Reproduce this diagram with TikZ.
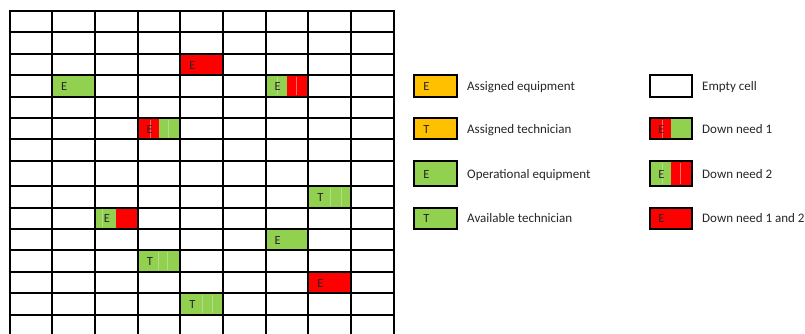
\documentclass[tikz,border=0pt]{standalone}
\usepackage{fontspec}
\setmainfont{Carlito}
\definecolor{xred}{RGB}{255,0,0}
\definecolor{xgreen}{RGB}{146,208,80}
\definecolor{xorange}{RGB}{255,192,0}
\definecolor{fgreen}{RGB}{178,222,140}
\definecolor{fred}{RGB}{255,110,110}
\begin{document}
\begin{tikzpicture}[x=1pt,y=-1pt,
  gridline/.style={line width=2pt,black},
  legbox/.style={line width=2pt,black},
  faintg/.style={line width=0.5pt,fgreen},
  faintr/.style={line width=0.5pt,fred},
  lbl/.style={inner sep=0pt,anchor=base,font=\fontsize{12.5}{12.5}\selectfont,text=black!85},
  legtxt/.style={inner sep=0pt,anchor=base west,font=\fontsize{13}{13}\selectfont,text=black!85}]
\clip (0,0) rectangle (805,333);
\fill[white] (0,0) rectangle (805,333);
% ---- filled cells ----
% r2 c4 red
\fill[xred] (180.3,53.8) rectangle (223,75.2);
\node[lbl] (c1) at (192.3,69) {E};
% r3 c1 green
\fill[xgreen] (52.2,75.2) rectangle (94.9,96.6);
\node[lbl] (c2) at (64.2,90.4) {E};
% r3 c6 green|red
\fill[xgreen] (265.7,75.2) rectangle (287.05,96.6);
\fill[xred] (287.05,75.2) rectangle (308.4,96.6);
\draw[faintg] (277,77) -- (277,95);
\draw[faintr] (296,77) -- (296,95);
\node[lbl] (c3) at (277.7,90.4) {E};
% r5 c3 red|green
\fill[xred] (137.6,118) rectangle (158.95,139.4);
\fill[xgreen] (158.95,118) rectangle (180.3,139.4);
\draw[faintr] (150,120) -- (150,138);
\draw[faintg] (168,120) -- (168,138);
\node[lbl] (c4) at (149.6,133.2) {E};
% r8 c7 green T
\fill[xgreen] (308.4,186.2) rectangle (351.1,207.6);
\draw[faintg] (330,188) -- (330,206);
\draw[faintg] (341,188) -- (341,206);
\node[lbl] (c5) at (320.4,201.4) {T};
% r9 c2 green|red
\fill[xgreen] (94.9,207.6) rectangle (116.25,229);
\fill[xred] (116.25,207.6) rectangle (137.6,229);
\draw[faintg] (102.7,209) -- (102.7,227);
\node[lbl] (c6) at (106.9,222.8) {E};
% r10 c6 green
\fill[xgreen] (265.7,229) rectangle (308.4,250.4);
\node[lbl] (c7) at (277.7,244.2) {E};
% r11 c3 green T
\fill[xgreen] (137.6,250.4) rectangle (180.3,271.8);
\draw[faintg] (158.5,252) -- (158.5,270);
\draw[faintg] (167.5,252) -- (167.5,270);
\node[lbl] (c8) at (150,265.6) {T};
% r12 c7 red
\fill[xred] (308.4,271.8) rectangle (351.1,293.2);
\node[lbl] (c9) at (320.4,287) {E};
% r13 c4 green T
\fill[xgreen] (180.3,293.2) rectangle (223,314.6);
\draw[faintg] (202.3,295) -- (202.3,313);
\draw[faintg] (212.3,295) -- (212.3,313);
\node[lbl] (c10) at (192.3,308.4) {T};
% ---- grid ----
\foreach \x in {9.5,52.2,94.9,137.6,180.3,223,265.7,308.4,351.1,393.8}
  \draw[gridline] (\x,10) -- (\x,340);
\foreach \y in {11,32.4,53.8,75.2,96.6,118,139.4,160.8,186.2,207.6,229,250.4,271.8,293.2,314.6}
  \draw[gridline] (8.5,\y) -- (394.8,\y);
% ---- legend left ----
\fill[xorange] (414,75.2) rectangle (457,96.6);
\draw[legbox] (414,75.2) rectangle (457,96.6);
\node[lbl] (l1) at (426.5,90.4) {E};
\node[legtxt] (t1) at (467,90.4) {Assigned equipment};
\fill[xorange] (414,118) rectangle (457,139.4);
\draw[legbox] (414,118) rectangle (457,139.4);
\node[lbl] (l2) at (426.5,133.2) {T};
\node[legtxt] (t2) at (467,133.2) {Assigned technician};
\fill[xgreen] (414,160.8) rectangle (457,186.2);
\draw[legbox] (414,160.8) rectangle (457,186.2);
\node[lbl] (l3) at (426.5,178.5) {E};
\node[legtxt] (t3) at (467,178.5) {Operational equipment};
\fill[xgreen] (414,207.6) rectangle (457,229);
\draw[legbox] (414,207.6) rectangle (457,229);
\node[lbl] (l4) at (426.5,222.8) {T};
\node[legtxt] (t4) at (467,222.8) {Available technician};
% ---- legend right ----
\fill[white] (649.5,75.2) rectangle (692,96.6);
\draw[legbox] (649.5,75.2) rectangle (692,96.6);
\node[legtxt] (t5) at (702,90.4) {Empty cell};
\fill[xred] (649.5,118) rectangle (670.5,139.4);
\fill[xgreen] (670.5,118) rectangle (692,139.4);
\draw[faintr] (662,120) -- (662,138);
\draw[legbox] (649.5,118) rectangle (692,139.4);
\node[lbl] (l6) at (661.5,133.2) {E};
\node[legtxt] (t6) at (702,133.2) {Down need 1};
\fill[xgreen] (649.5,160.8) rectangle (670.5,186.2);
\fill[xred] (670.5,160.8) rectangle (692,186.2);
\draw[faintg] (662,163) -- (662,184);
\draw[faintr] (680,163) -- (680,184);
\draw[legbox] (649.5,160.8) rectangle (692,186.2);
\node[lbl] (l7) at (661.5,178.5) {E};
\node[legtxt] (t7) at (702,178.5) {Down need 2};
\fill[xred] (649.5,207.6) rectangle (692,229);
\draw[legbox] (649.5,207.6) rectangle (692,229);
\node[lbl] (l8) at (661.5,222.8) {E};
\node[legtxt] (t8) at (702,222.8) {Down need 1 and 2};
\end{tikzpicture}
\end{document}
